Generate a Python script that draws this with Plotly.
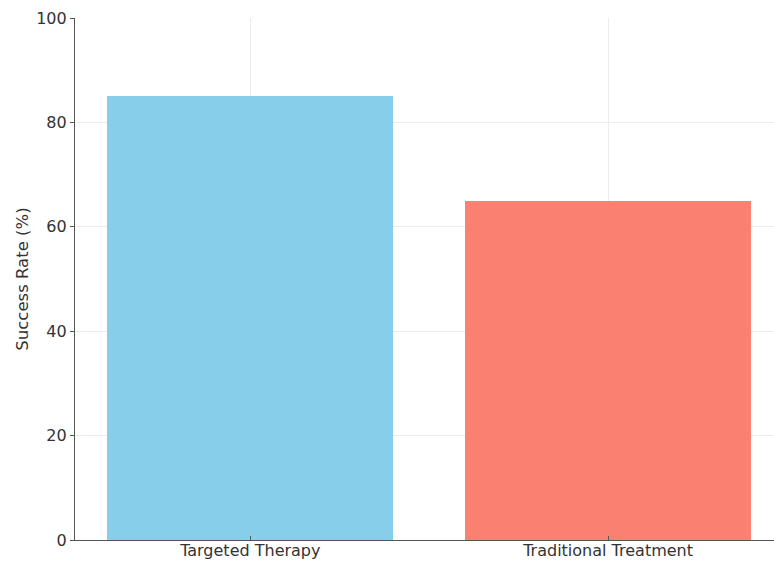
import plotly.graph_objects as go

categories = ["Targeted Therapy", "Traditional Treatment"]
success_rates = [85, 65]
bar_colors = ["#87CEEB", "#FA8072"]
y_ticks = [0, 20, 40, 60, 80, 100]

positions = list(range(len(categories)))

fig = go.Figure(
    go.Bar(
        x=positions,
        y=success_rates,
        width=0.8,
        marker=dict(color=bar_colors, line=dict(width=0)),
    )
)

font_family = "DejaVu Sans, Arial, sans-serif"

fig.update_layout(
    width=774,
    height=563,
    margin=dict(l=75, r=0, t=18, b=23),
    plot_bgcolor="white",
    paper_bgcolor="white",
    showlegend=False,
    font=dict(family=font_family, color="#333333", size=16),
    bargap=0,
)

fig.update_xaxes(
    range=[-0.49, 1.4637],
    tickvals=positions,
    ticktext=categories,
    showgrid=True,
    gridcolor="#ececec",
    gridwidth=1,
    showline=True,
    linecolor="#555555",
    linewidth=1.2,
    ticks="inside",
    ticklen=4,
    tickcolor="#555555",
    tickfont=dict(size=16, color="#333333"),
    ticklabelstandoff=-4,
    zeroline=False,
    automargin=False,
)

fig.update_yaxes(
    range=[0, 100],
    tickvals=y_ticks,
    showgrid=True,
    gridcolor="#ececec",
    gridwidth=1,
    showline=True,
    linecolor="#555555",
    linewidth=1.2,
    ticks="outside",
    ticklen=4,
    tickcolor="#555555",
    tickfont=dict(size=16, color="#333333"),
    title=dict(text="Success Rate (%)", font=dict(size=16.5, color="#333333"), standoff=3),
    zeroline=False,
    automargin=False,
)

fig.write_html("out.html")
